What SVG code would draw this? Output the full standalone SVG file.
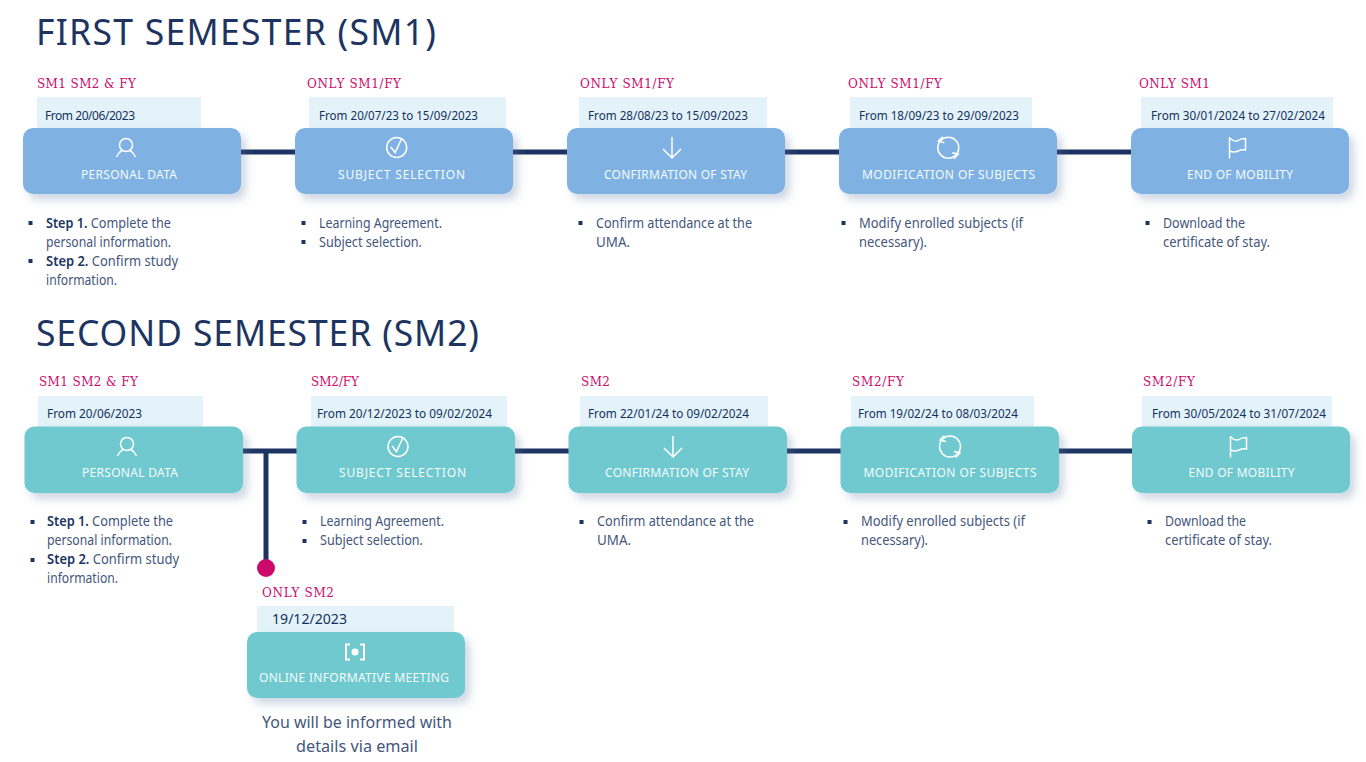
<svg xmlns="http://www.w3.org/2000/svg" width="1366" height="762" viewBox="0 0 1366 762">
<style>
text{font-family:"Noto Sans","Liberation Sans",sans-serif}
.title{font-size:35.5px;fill:#1d3461}
.tag{font-family:"DejaVu Serif","Liberation Serif",serif;font-size:12px;fill:#cc0a6a}
.date{font-size:12px;fill:#14315e}
.lab{font-size:12px;fill:#f4fbfd}
.body{font-size:13.5px;fill:#44567c}
.strong{font-weight:600;fill:#1d3461}
.note{font-size:17px;fill:#44567c}
.light{fill:#e3f3f9}
.blue{fill:#7fb2e3;filter:url(#sh)}
.teal{fill:#70c9cf;filter:url(#sh)}
.ic{fill:none;stroke:#fff;stroke-width:1.5}
.bul{fill:#1d3461}
.ln{stroke:#1d3461;stroke-width:5;fill:none}
</style>
<defs>
<filter id="sh" x="-15%" y="-30%" width="130%" height="170%"><feDropShadow dx="5" dy="6" stdDeviation="4" flood-color="#5f7fa8" flood-opacity="0.3"/></filter>
<g id="i-person"><circle class="ic" cx="0" cy="-3" r="6.500"/><path class="ic" d="M-9.500 9C-8 5.500-6 3.500-3.500 2M9.500 9C8 5.500 6 3.500 3.500 2"/></g>
<g id="i-check"><circle class="ic" cx="0" cy="0" r="10"/><path class="ic" d="M-6-.5L-1.500 5 5-9"/></g>
<g id="i-arrow"><path class="ic" d="M0-11V10M-9 1L0 10 9 1"/></g>
<g id="i-cycle"><circle class="ic" cx="0" cy="0" r="10.500"/><path class="ic" d="M-5.500-11L-10-6.500-4-5M5.500 11L10 6.500 4 5"/></g>
<g id="i-flag"><path class="ic" d="M-7.500-11V10.500M-7.500-10C-3-6 0-6.500 2-8S6-9.500 8.500-9.500V2C5 1 3 2 1 3S-4 4.500-7.500 3"/></g>
</defs>
<rect width="1366" height="762" fill="#fff"/>

<g id="connectors">
<path class="ln" d="M241 152H1131"/>
<path class="ln" d="M243 451H1132"/>
<path class="ln" d="M266 451V568"/>
<circle cx="266" cy="568" r="9" fill="#cc0a6a"/>
</g>

<text id="title1" class="title" x="36" y="45" textLength="400">FIRST SEMESTER (SM1)</text>
<text id="title2" class="title" x="36" y="346" textLength="443">SECOND SEMESTER (SM2)</text>

<g id="sm1-personal">
<text class="tag" x="37" y="87.500" textLength="99">SM1 SM2 &amp; FY</text>
<rect class="light" x="37" y="97" width="164" height="32"/>
<text class="date" x="45" y="119.500" textLength="90">From 20/06/2023</text>
<rect class="blue" x="23" y="128" width="218" height="66" rx="10"/>
<use href="#i-person" x="126" y="148"/>
<text class="lab" x="81" y="178.500" textLength="96">PERSONAL DATA</text>
<rect class="bul" x="28.500" y="221" width="4" height="4"/><rect class="bul" x="28.500" y="259" width="4" height="4"/>
<text class="body" x="46" y="227.500" textLength="125" lengthAdjust="spacingAndGlyphs"><tspan class="strong">Step 1.</tspan> Complete the</text>
<text class="body" x="46" y="246.500" textLength="125" lengthAdjust="spacingAndGlyphs">personal information.</text>
<text class="body" x="46" y="265.500" textLength="132" lengthAdjust="spacingAndGlyphs"><tspan class="strong">Step 2.</tspan> Confirm study</text>
<text class="body" x="46" y="284.500" textLength="71" lengthAdjust="spacingAndGlyphs">information.</text>
</g>

<g id="sm1-subject">
<text class="tag" x="307" y="87.500" textLength="94">ONLY SM1/FY</text>
<rect class="light" x="309" y="97" width="197" height="32"/>
<text class="date" x="319" y="119.500" textLength="159" lengthAdjust="spacingAndGlyphs">From 20/07/23 to 15/09/2023</text>
<rect class="blue" x="295" y="128" width="218" height="66" rx="10"/>
<use href="#i-check" x="396.700" y="147.500"/>
<text class="lab" x="338" y="178.500" textLength="127">SUBJECT SELECTION</text>
<rect class="bul" x="301.500" y="221" width="4" height="4"/><rect class="bul" x="301.500" y="240" width="4" height="4"/>
<text class="body" x="319" y="227.500" textLength="123" lengthAdjust="spacingAndGlyphs">Learning Agreement.</text>
<text class="body" x="319" y="246.500" textLength="103" lengthAdjust="spacingAndGlyphs">Subject selection.</text>
</g>

<g id="sm1-confirm">
<text class="tag" x="580" y="87.500" textLength="94">ONLY SM1/FY</text>
<rect class="light" x="579" y="97" width="188" height="32"/>
<text class="date" x="588" y="119.500" textLength="160" lengthAdjust="spacingAndGlyphs">From 28/08/23 to 15/09/2023</text>
<rect class="blue" x="567" y="128" width="218" height="66" rx="10"/>
<use href="#i-arrow" x="672" y="148"/>
<text class="lab" x="604" y="178.500" textLength="143">CONFIRMATION OF STAY</text>
<rect class="bul" x="578.500" y="221" width="4" height="4"/>
<text class="body" x="596" y="227.500" textLength="156" lengthAdjust="spacingAndGlyphs">Confirm attendance at the</text>
<text class="body" x="596" y="246.500" textLength="34" lengthAdjust="spacingAndGlyphs">UMA.</text>
</g>

<g id="sm1-modify">
<text class="tag" x="848" y="87.500" textLength="94">ONLY SM1/FY</text>
<rect class="light" x="850" y="97" width="182" height="32"/>
<text class="date" x="859" y="119.500" textLength="160" lengthAdjust="spacingAndGlyphs">From 18/09/23 to 29/09/2023</text>
<rect class="blue" x="839" y="128" width="218" height="66" rx="10"/>
<use href="#i-cycle" x="948.300" y="147.700"/>
<text class="lab" x="862" y="178.500" textLength="173">MODIFICATION OF SUBJECTS</text>
<rect class="bul" x="841.500" y="221" width="4" height="4"/>
<text class="body" x="859" y="227.500" textLength="164" lengthAdjust="spacingAndGlyphs">Modify enrolled subjects (if</text>
<text class="body" x="859" y="246.500" textLength="68" lengthAdjust="spacingAndGlyphs">necessary).</text>
</g>

<g id="sm1-end">
<text class="tag" x="1139" y="87.500" textLength="71">ONLY SM1</text>
<rect class="light" x="1141" y="97" width="192" height="32"/>
<text class="date" x="1151" y="119.500" textLength="174" lengthAdjust="spacingAndGlyphs">From 30/01/2024 to 27/02/2024</text>
<rect class="blue" x="1131" y="128" width="218" height="66" rx="10"/>
<use href="#i-flag" x="1237" y="148"/>
<text class="lab" x="1187" y="178.500" textLength="106">END OF MOBILITY</text>
<rect class="bul" x="1145.500" y="221" width="4" height="4"/>
<text class="body" x="1163" y="227.500" textLength="82" lengthAdjust="spacingAndGlyphs">Download the</text>
<text class="body" x="1163" y="246.500" textLength="107" lengthAdjust="spacingAndGlyphs">certificate of stay.</text>
</g>

<g id="sm2-personal">
<text class="tag" x="39" y="386" textLength="99">SM1 SM2 &amp; FY</text>
<rect class="light" x="38" y="396" width="165" height="32"/>
<text class="date" x="47" y="418" textLength="95" lengthAdjust="spacingAndGlyphs">From 20/06/2023</text>
<rect class="teal" x="24.500" y="426.500" width="218.500" height="66.500" rx="10"/>
<use href="#i-person" x="127" y="447"/>
<text class="lab" x="82" y="477" textLength="96">PERSONAL DATA</text>
<rect class="bul" x="30.500" y="520" width="4" height="4"/><rect class="bul" x="30.500" y="558" width="4" height="4"/>
<text class="body" x="47" y="526" textLength="126" lengthAdjust="spacingAndGlyphs"><tspan class="strong">Step 1.</tspan> Complete the</text>
<text class="body" x="47" y="545" textLength="125" lengthAdjust="spacingAndGlyphs">personal information.</text>
<text class="body" x="47" y="564" textLength="132" lengthAdjust="spacingAndGlyphs"><tspan class="strong">Step 2.</tspan> Confirm study</text>
<text class="body" x="47" y="583" textLength="71" lengthAdjust="spacingAndGlyphs">information.</text>
</g>

<g id="sm2-subject">
<text class="tag" x="311" y="386" textLength="48">SM2/FY</text>
<rect class="light" x="311" y="396" width="196" height="32"/>
<text class="date" x="317" y="418" textLength="175" lengthAdjust="spacingAndGlyphs">From 20/12/2023 to 09/02/2024</text>
<rect class="teal" x="296.500" y="426.500" width="218.500" height="66.500" rx="10"/>
<use href="#i-check" x="398" y="446.500"/>
<text class="lab" x="339" y="477" textLength="127">SUBJECT SELECTION</text>
<rect class="bul" x="302.500" y="520" width="4" height="4"/><rect class="bul" x="302.500" y="539" width="4" height="4"/>
<text class="body" x="320" y="526" textLength="124" lengthAdjust="spacingAndGlyphs">Learning Agreement.</text>
<text class="body" x="320" y="545" textLength="103" lengthAdjust="spacingAndGlyphs">Subject selection.</text>
</g>

<g id="sm2-confirm">
<text class="tag" x="581" y="386" textLength="29">SM2</text>
<rect class="light" x="580" y="396" width="188" height="32"/>
<text class="date" x="588" y="418" textLength="161" lengthAdjust="spacingAndGlyphs">From 22/01/24 to 09/02/2024</text>
<rect class="teal" x="568.500" y="426.500" width="218.500" height="66.500" rx="10"/>
<use href="#i-arrow" x="673" y="447"/>
<text class="lab" x="605" y="477" textLength="144">CONFIRMATION OF STAY</text>
<rect class="bul" x="579.500" y="520" width="4" height="4"/>
<text class="body" x="597" y="526" textLength="157" lengthAdjust="spacingAndGlyphs">Confirm attendance at the</text>
<text class="body" x="597" y="545" textLength="34" lengthAdjust="spacingAndGlyphs">UMA.</text>
</g>

<g id="sm2-modify">
<text class="tag" x="852" y="386" textLength="52">SM2/FY</text>
<rect class="light" x="851" y="396" width="183" height="32"/>
<text class="date" x="858" y="418" textLength="160" lengthAdjust="spacingAndGlyphs">From 19/02/24 to 08/03/2024</text>
<rect class="teal" x="840.500" y="426.500" width="218.500" height="66.500" rx="10"/>
<use href="#i-cycle" x="950" y="446.500"/>
<text class="lab" x="863.500" y="477" textLength="173">MODIFICATION OF SUBJECTS</text>
<rect class="bul" x="843.500" y="520" width="4" height="4"/>
<text class="body" x="861" y="526" textLength="164" lengthAdjust="spacingAndGlyphs">Modify enrolled subjects (if</text>
<text class="body" x="861" y="545" textLength="67" lengthAdjust="spacingAndGlyphs">necessary).</text>
</g>

<g id="sm2-end">
<text class="tag" x="1143" y="386" textLength="52">SM2/FY</text>
<rect class="light" x="1142" y="396" width="190" height="32"/>
<text class="date" x="1152" y="418" textLength="174" lengthAdjust="spacingAndGlyphs">From 30/05/2024 to 31/07/2024</text>
<rect class="teal" x="1132" y="426.500" width="218" height="66.500" rx="10"/>
<use href="#i-flag" x="1238" y="447"/>
<text class="lab" x="1188.500" y="477" textLength="106">END OF MOBILITY</text>
<rect class="bul" x="1147.500" y="520" width="4" height="4"/>
<text class="body" x="1165" y="526" textLength="81" lengthAdjust="spacingAndGlyphs">Download the</text>
<text class="body" x="1165" y="545" textLength="107" lengthAdjust="spacingAndGlyphs">certificate of stay.</text>
</g>

<g id="sm2-online">
<text class="tag" x="262" y="597" textLength="72">ONLY SM2</text>
<rect class="light" x="257" y="606" width="197" height="27"/>
<text class="date" x="272" y="624" style="font-size:14px" textLength="75" lengthAdjust="spacingAndGlyphs">19/12/2023</text>
<rect class="teal" x="247" y="632" width="218" height="66" rx="10"/>
<path class="ic" style="stroke-width:2" d="M350 644.500H346V659.500H350M360 644.500H364V659.500H360"/>
<circle cx="355" cy="652" r="3.500" fill="#fff"/>
<text class="lab" x="259" y="682" textLength="190">ONLINE INFORMATIVE MEETING</text>
<text class="note" x="262" y="728" textLength="190" lengthAdjust="spacingAndGlyphs">You will be informed with</text>
<text class="note" x="296" y="752" textLength="122" lengthAdjust="spacingAndGlyphs">details via email</text>
</g>
</svg>
